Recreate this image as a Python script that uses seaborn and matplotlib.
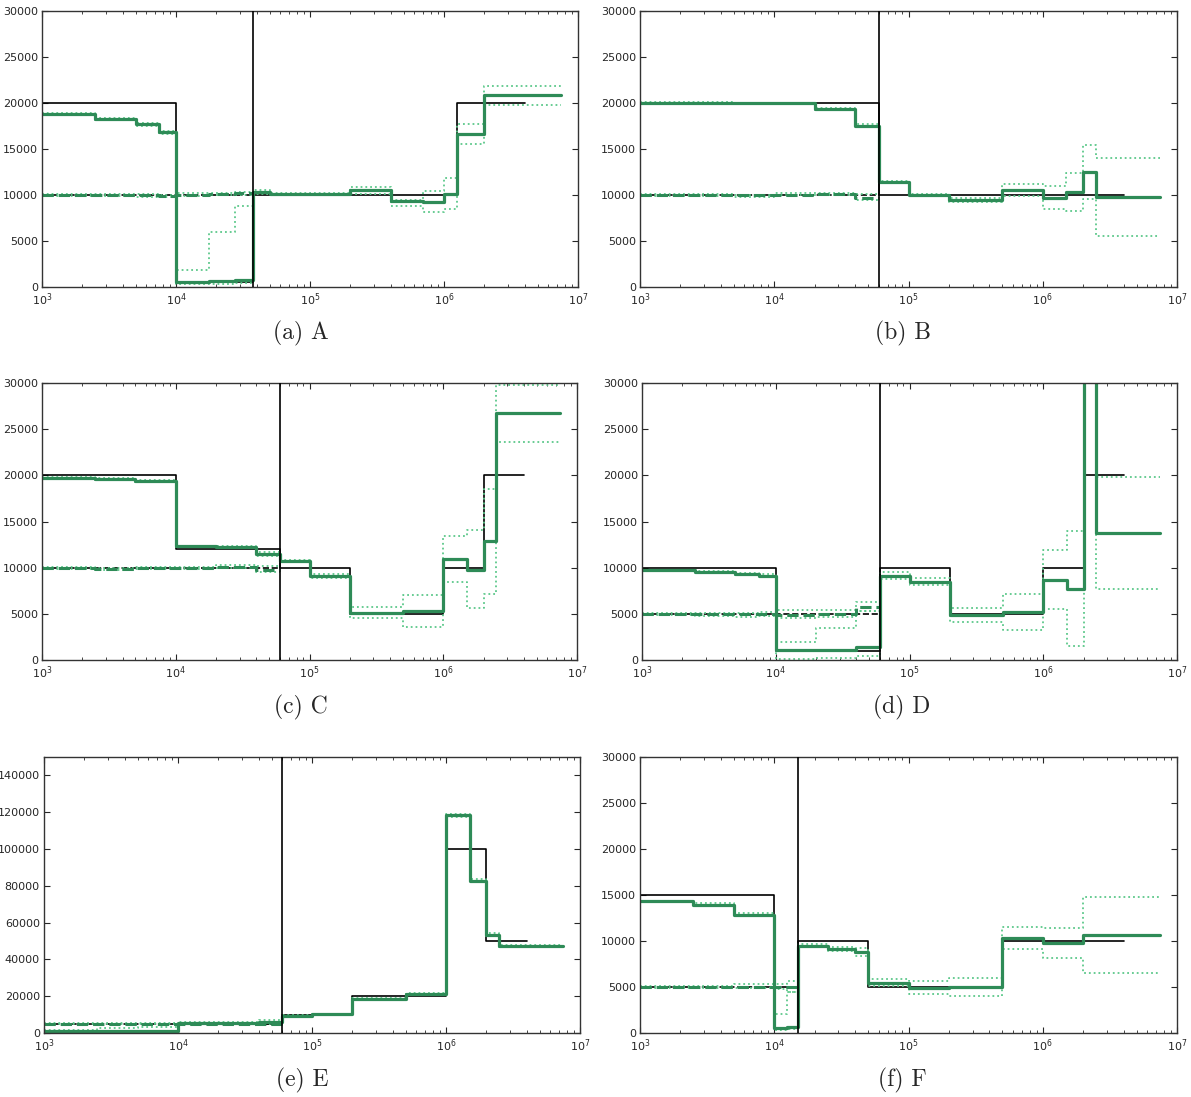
import matplotlib
matplotlib.use("Agg")
import matplotlib.pyplot as plt
import seaborn as sns

# ---------------- data ----------------
END_EST = 7.5e6
END_TRUE = 4e6
X0 = 1e3

# Panel A
A_split = 3.75e4
A_true_t = [1e3, 1e4]
A_true1 = [20000, 500]
A_true2 = 10000
A_true_anc_t = [3.75e4, 1.25e6]
A_true_anc = [10000, 20000]
A_pre_t = [1e3, 2.5e3, 5e3, 7.5e3, 1e4, 1.75e4, 2.75e4]
A_pop1 = [18800, 18250, 17700, 16800, 500, 600, 800]
A_pop1_lo = [18700, 18150, 17550, 16600, 300, 350, 450]
A_pop1_hi = [18900, 18350, 17850, 17000, 1900, 6000, 8850]
A_pop2 = [10000, 10000, 9950, 9900, 10050, 10100, 10200]
A_pop2_lo = [9900, 9850, 9800, 9750, 9900, 9950, 10000]
A_pop2_hi = [10100, 10100, 10100, 10050, 10200, 10250, 10350]
A_post_t = [3.75e4, 5e4, 2e5, 4e5, 7e5, 1e6, 1.25e6, 2e6]
A_anc = [10300, 10150, 10500, 9400, 9200, 10100, 16600, 20900]
A_anc_lo = [10100, 10000, 10100, 8800, 8200, 8500, 15500, 19800]
A_anc_hi = [10500, 10250, 10850, 9500, 10400, 11800, 17700, 21900]

# Panel B
B_split = 6e4
B_true_t = [1e3]
B_true1 = [20000]
B_true2 = 10000
B_true_anc_t = [6e4]
B_true_anc = [10000]
B_pre_t = [1e3, 2.5e3, 5e3, 1e4, 2e4, 4e4]
B_pop1 = [20050, 20050, 19950, 19950, 19350, 17550]
B_pop1_lo = [19950, 19950, 19850, 19850, 19200, 17400]
B_pop1_hi = [20150, 20150, 20050, 20050, 19500, 17700]
B_pop2 = [10000, 10000, 9950, 10050, 10100, 9700]
B_pop2_lo = [9900, 9900, 9800, 9950, 10000, 9500]
B_pop2_hi = [10100, 10100, 10050, 10200, 10200, 10100]
B_post_t = [6e4, 1e5, 2e5, 5e5, 1e6, 1.5e6, 2e6, 2.5e6]
B_anc = [11450, 10050, 9500, 10500, 9700, 10350, 12500, 9800]
B_anc_lo = [11300, 9850, 9250, 9900, 8450, 8300, 9550, 5500]
B_anc_hi = [11550, 10150, 9650, 11150, 11000, 12350, 15450, 14050]

# Panel C
C_split = 6e4
C_true_t = [1e3, 1e4]
C_true1 = [20000, 12000]
C_true2 = 10000
C_true_anc_t = [6e4, 2e5, 1e6, 2e6]
C_true_anc = [10000, 5000, 10000, 20000]
C_pre_t = [1e3, 2.5e3, 5e3, 1e4, 2e4, 4e4]
C_pop1 = [19700, 19600, 19400, 12300, 12200, 11500]
C_pop1_lo = [19600, 19450, 19250, 12200, 12100, 11300]
C_pop1_hi = [19850, 19700, 19500, 12400, 12300, 11700]
C_pop2 = [10000, 9900, 9950, 10000, 10100, 9700]
C_pop2_lo = [9900, 9800, 9850, 9900, 9950, 9500]
C_pop2_hi = [10100, 10000, 10050, 10100, 10300, 10200]
C_post_t = [6e4, 1e5, 2e5, 5e5, 1e6, 1.5e6, 2e6, 2.5e6]
C_anc = [10750, 9100, 5050, 5300, 10900, 9800, 12900, 26700]
C_anc_lo = [10600, 8900, 4500, 3600, 8400, 5600, 7200, 23650]
C_anc_hi = [10850, 9300, 5700, 7050, 13400, 14050, 18500, 29800]

# Panel D
D_split = 6e4
D_true_t = [1e3, 1e4]
D_true1 = [10000, 1000]
D_true2 = 5000
D_true_anc_t = [6e4, 2e5, 1e6, 2e6]
D_true_anc = [10000, 5000, 10000, 20000]
D_pre_t = [1e3, 2.5e3, 5e3, 7.5e3, 1e4, 2e4, 4e4]
D_pop1 = [9700, 9550, 9350, 9150, 1050, 1100, 1450]
D_pop1_lo = [9600, 9450, 9250, 9000, 150, 250, 450]
D_pop1_hi = [9800, 9650, 9450, 9300, 1900, 3500, 5300]
D_pop2 = [5000, 5000, 4950, 5000, 4900, 5000, 5700]
D_pop2_lo = [4850, 4800, 4700, 4750, 4600, 4700, 5300]
D_pop2_hi = [5100, 5100, 5100, 5200, 5400, 5400, 6300]
D_post_t = [6e4, 1e5, 2e5, 5e5, 1e6, 1.5e6, 2e6, 2.5e6]
D_anc = [9100, 8500, 4900, 5150, 8700, 7700, 60000, 13800]
D_anc_lo = [8800, 8100, 4100, 3300, 5500, 1500, 45000, 7700]
D_anc_hi = [9550, 8900, 5650, 7100, 11950, 14000, 80000, 19850]

# Panel E
E_split = 6e4
E_true_t = [1e3, 1e4]
E_true1 = [1000, 5000]
E_true2 = 5000
E_true_anc_t = [6e4, 2e5, 1e6, 2e6]
E_true_anc = [10000, 20000, 100000, 50000]
E_pre_t = [1e3, 2.5e3, 5e3, 1e4, 2e4, 4e4]
E_pop1 = [1000, 1000, 1000, 5300, 5300, 6200]
E_pop1_lo = [700, 700, 700, 4800, 4800, 5700]
E_pop1_hi = [1500, 2500, 3000, 5800, 5800, 6800]
E_pop2 = [5000, 5000, 5000, 5000, 5000, 5000]
E_pop2_lo = [4700, 4700, 4700, 4700, 4700, 4700]
E_pop2_hi = [5300, 5300, 5300, 5300, 5300, 5300]
E_post_t = [6e4, 1e5, 2e5, 5e5, 1e6, 1.5e6, 2e6, 2.5e6]
E_anc = [9400, 10100, 18300, 21200, 118400, 82800, 53500, 47200]
E_anc_lo = [9000, 9800, 17800, 20700, 117500, 82000, 52800, 46700]
E_anc_hi = [9800, 10400, 18800, 21700, 119200, 83600, 54200, 47700]

# Panel F
F_split = 1.5e4
F_true_t = [1e3, 1e4]
F_true1 = [15000, 500]
F_true2 = 5000
F_true_anc_t = [1.5e4, 5e4, 5e5]
F_true_anc = [10000, 5000, 10000]
F_pre_t = [1e3, 2.5e3, 5e3, 1e4, 1.25e4]
F_pop1 = [14300, 13950, 12850, 500, 650]
F_pop1_lo = [14200, 13850, 12700, 300, 400]
F_pop1_hi = [14400, 14100, 13000, 2100, 4500]
F_pop2 = [5000, 5000, 5050, 5000, 5000]
F_pop2_lo = [4850, 4850, 4900, 4800, 4500]
F_pop2_hi = [5150, 5150, 5300, 5300, 5600]
F_post_t = [1.5e4, 2.5e4, 4e4, 5e4, 1e5, 2e5, 5e5, 1e6, 2e6]
F_anc = [9500, 9100, 8850, 5480, 4930, 5000, 10340, 9750, 10700]
F_anc_lo = [9300, 8900, 8400, 5100, 4200, 4000, 9140, 8100, 6530]
F_anc_hi = [9700, 9300, 9250, 5900, 5600, 6000, 11500, 11430, 14800]

captions = ["(a) A", "(b) B", "(c) C", "(d) D", "(e) E", "(f) F"]
y_max = [30000, 30000, 30000, 30000, 150000, 30000]
y_step = [5000, 5000, 5000, 5000, 20000, 5000]

# ---------------- style ----------------
sns.set_style("ticks")
plt.rcParams.update({
    "font.family": ["DejaVu Sans"],
    "xtick.direction": "in", "ytick.direction": "in",
    "xtick.top": True, "ytick.right": True,
    "xtick.major.size": 4, "ytick.major.size": 4,
    "xtick.minor.size": 2, "ytick.minor.size": 2,
    "xtick.major.width": 0.8, "ytick.major.width": 0.8,
    "xtick.labelsize": 8, "ytick.labelsize": 8,
    "axes.edgecolor": "#333333", "axes.linewidth": 1.0,
})

GREEN = "#2e8b57"
LIGHT = "#5cc88a"

fig = plt.figure(figsize=(11.91, 10.97), dpi=100)
W, H = 1191, 1097
boxes = [(42, 11, 536, 276), (640, 11, 537, 276),
         (42, 383, 535, 277), (642, 383, 535, 277),
         (44, 757, 536, 276), (640, 757, 537, 276)]
cap_pos = [(301, 333), (903, 333), (301, 707), (902, 707), (302, 1080), (902, 1080)]


def line(ax, x, y, **kw):
    sns.lineplot(x=x, y=y, ax=ax, drawstyle="steps-post", estimator=None,
                 sort=False, legend=False, **kw)


def steps(edges, vals, end):
    return list(edges) + [end], list(vals) + [vals[-1]]


panels = []
for p in "ABCDEF":
    g = globals()
    panels.append({k: g[f"{p}_{k}"] for k in [
        "split", "true_t", "true1", "true2", "true_anc_t", "true_anc",
        "pre_t", "pop1", "pop1_lo", "pop1_hi", "pop2", "pop2_lo", "pop2_hi",
        "post_t", "anc", "anc_lo", "anc_hi"]})

for i, d in enumerate(panels):
    l, t, w, h = boxes[i]
    ax = fig.add_axes([l / W, (H - t - h) / H, w / W, h / H])
    split = d["split"]
    # truth
    x, y = steps(d["true_t"] + d["true_anc_t"], d["true1"] + d["true_anc"], END_TRUE)
    line(ax, x, y, color="black", lw=1.2)
    line(ax, [X0, split], [d["true2"], d["true2"]], color="black", lw=1.2, linestyle="--")
    ax.axvline(split, color="black", lw=1.2, zorder=3)
    # confidence intervals
    for lo_hi in ["lo", "hi"]:
        x, y = steps(d["pre_t"] + d["post_t"], d[f"pop1_{lo_hi}"] + d[f"anc_{lo_hi}"], END_EST)
        line(ax, x, y, color=LIGHT, lw=1.3, linestyle=":")
        x, y = steps(d["pre_t"], d[f"pop2_{lo_hi}"], split)
        line(ax, x, y, color=LIGHT, lw=1.3, linestyle=":")
    # estimates
    x, y = steps(d["pre_t"], d["pop2"], split)
    line(ax, x, y, color=GREEN, lw=2.2, linestyle="--")
    x, y = steps(d["pre_t"] + d["post_t"], d["pop1"] + d["anc"], END_EST)
    line(ax, x, y, color=GREEN, lw=2.3)

    ax.set_xscale("log")
    ax.set_xlim(1e3, 1e7)
    ax.set_ylim(0, y_max[i])
    ax.set_yticks(list(range(0, y_max[i], y_step[i])) + ([y_max[i]] if y_max[i] % y_step[i] == 0 else []))
    ax.set_xlabel("")
    ax.set_ylabel("")
    ax.tick_params(which="both", top=True, right=True, direction="in", pad=3)
    for s in ax.spines.values():
        s.set_visible(True)
    cx, cy = cap_pos[i]
    fig.text(cx / W, (H - cy) / H, captions[i], ha="center", va="center",
             fontsize=17, family="cmr10")

fig.savefig("out.png", dpi=100)
